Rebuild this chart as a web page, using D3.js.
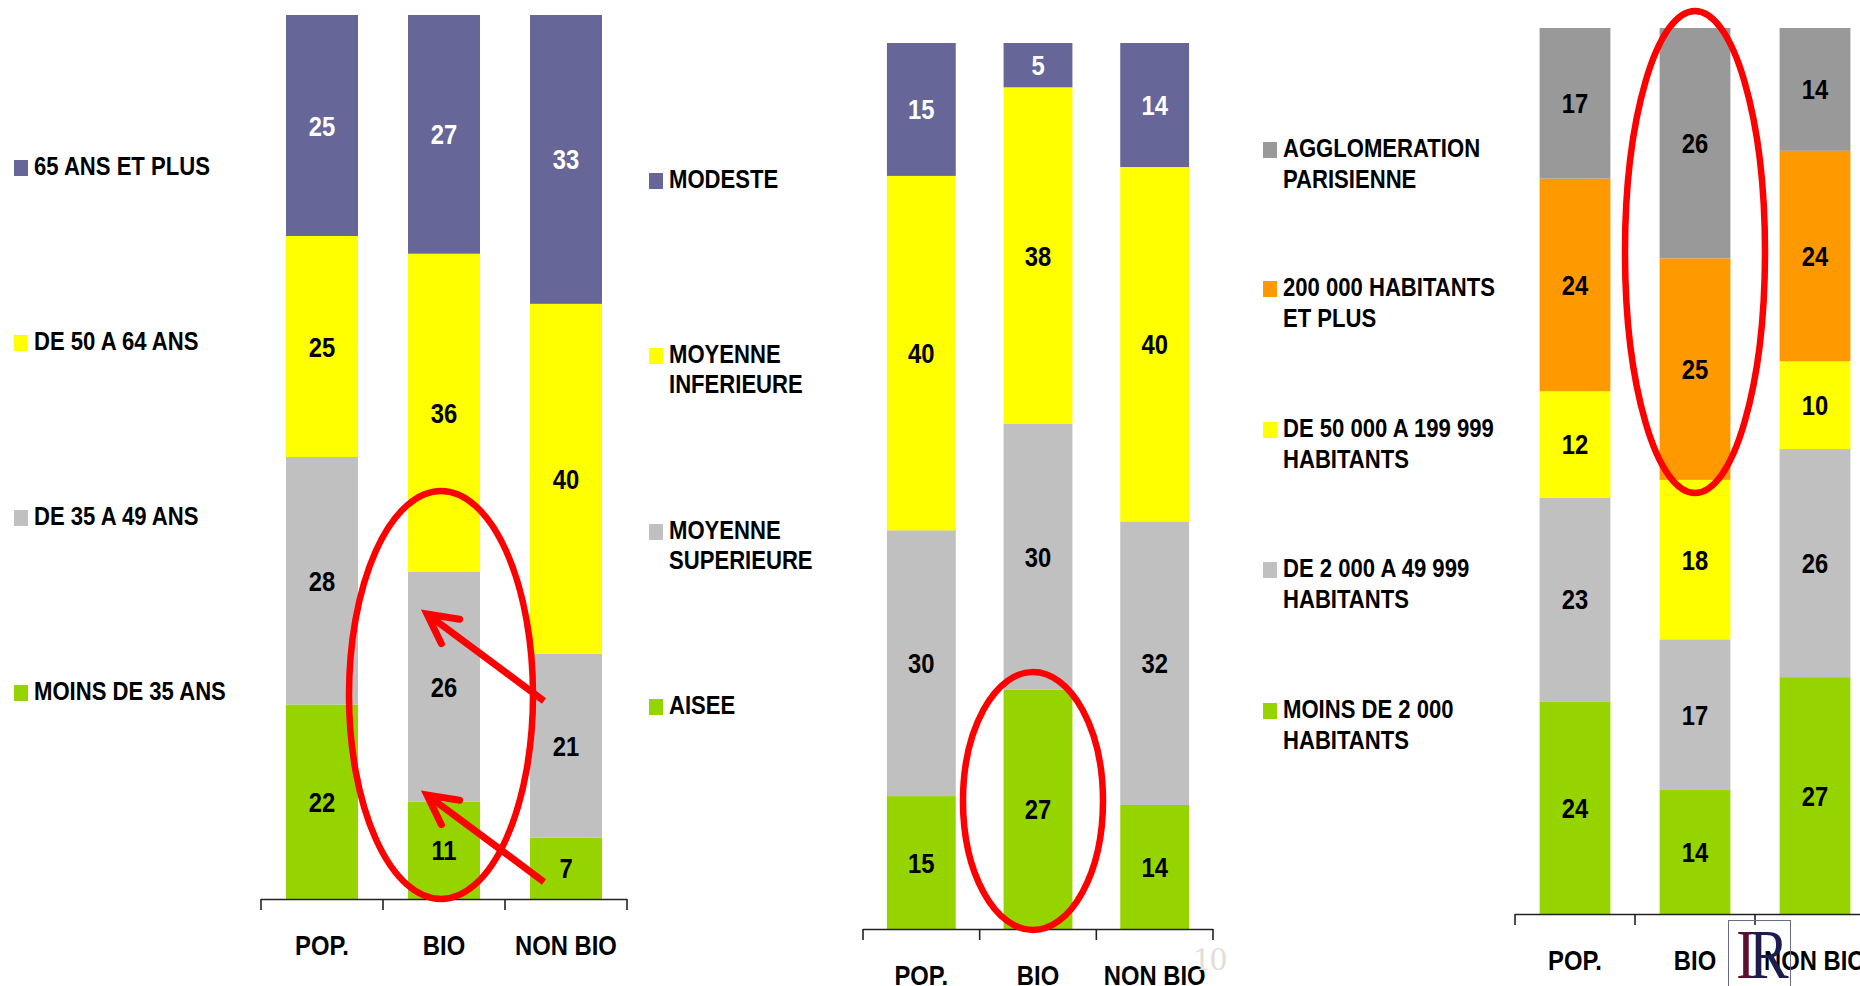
<!DOCTYPE html>
<html>
<head>
<meta charset="utf-8">
<script src="https://cdn.jsdelivr.net/npm/d3@7"></script>
<style>
  body { margin: 0; background: #fff; }
  svg { display: block; }
  text { font-family: "Liberation Sans", Arial, sans-serif; font-weight: bold; }
</style>
</head>
<body>
<div id="chart"></div>
<script>
// Categories shared by the three panels
const categories = ["POP.", "BIO", "NON BIO"];

// Panel 1 : age
const ageSeries = [["65 ANS ET PLUS"], ["DE 50 A 64 ANS"], ["DE 35 A 49 ANS"], ["MOINS DE 35 ANS"]];
const age65Plus = [25, 27, 33];
const age50to64 = [25, 36, 40];
const age35to49 = [28, 26, 21];
const ageUnder35 = [22, 11, 7];

// Panel 2 : income
const incomeSeries = [["MODESTE"], ["MOYENNE", "INFERIEURE"], ["MOYENNE", "SUPERIEURE"], ["AISEE"]];
const modeste = [15, 5, 14];
const moyenneInf = [40, 38, 40];
const moyenneSup = [30, 30, 32];
const aisee = [15, 27, 14];

// Panel 3 : town size
const townSeries = [["AGGLOMERATION", "PARISIENNE"], ["200 000 HABITANTS", "ET PLUS"],
  ["DE 50 000 A 199 999", "HABITANTS"], ["DE 2 000 A 49 999", "HABITANTS"], ["MOINS DE 2 000", "HABITANTS"]];
const paris = [17, 26, 14];
const over200k = [24, 25, 24];
const from50k = [12, 18, 10];
const from2k = [23, 17, 26];
const under2k = [24, 14, 27];

// Colours
const purple = "#666699", yellow = "#ffff00", lightGrey = "#c0c0c0", green = "#96d400";
const darkGrey = "#999999", orange = "#ff9900";
const ageColors = [purple, yellow, lightGrey, green];
const incomeColors = [purple, yellow, lightGrey, green];
const townColors = [darkGrey, orange, yellow, lightGrey, green];

const width = 1860, height = 986;
const squeeze = 0.85; // the original text is horizontally condensed

const panels = [
  { series: ageSeries, colors: ageColors, values: [age65Plus, age50to64, age35to49, ageUnder35],
    axis: [261, 627], top: 15, base: 899, legendX: 14, legendY: [175, 350, 525, 700], lineGap: 30 },
  { series: incomeSeries, colors: incomeColors, values: [modeste, moyenneInf, moyenneSup, aisee],
    axis: [863, 1213], top: 43, base: 929, legendX: 649, legendY: [188, 363, 539, 714], lineGap: 30 },
  { series: townSeries, colors: townColors, values: [paris, over200k, from50k, from2k, under2k],
    axis: [1515, 1875], top: 28, base: 914, legendX: 1263, legendY: [157, 296, 437, 577, 718], lineGap: 31 }
];

let svg = d3.select("#chart")
  .append("svg")
  .attr("width", width)
  .attr("height", height);

function squeezed(x, y) {
  return "translate(" + x + "," + y + ") scale(" + squeeze + ",1)";
}

let scales = [];

panels.forEach(p => {
  let x = d3.scaleBand()
    .domain(categories)
    .range(p.axis)
    .paddingInner(0.41)
    .paddingOuter(0.205);
  let y = d3.scaleLinear()
    .domain([0, 1])
    .range([p.base, p.top]);
  scales.push({ x: x, y: y });

  let rows = categories.map((c, i) => {
    let r = { cat: c };
    p.series.forEach((s, k) => r[k] = p.values[k][i]);
    return r;
  });
  // stack bottom-up, last series at the bottom; normalised to 100%
  let keys = d3.range(p.series.length).reverse();
  let stacked = d3.stack().keys(keys).offset(d3.stackOffsetExpand)(rows);

  let g = svg.append("g");
  let layers = g.selectAll("g.layer")
    .data(stacked)
    .enter()
    .append("g")
    .attr("class", "layer");

  layers.selectAll("rect")
    .data(layer => layer.map(d => ({ d: d, key: layer.key })))
    .enter()
    .append("rect")
    .attr("x", o => x(o.d.data.cat))
    .attr("y", o => y(o.d[1]))
    .attr("width", x.bandwidth())
    .attr("height", o => y(o.d[0]) - y(o.d[1]))
    .attr("fill", o => p.colors[o.key]);

  layers.selectAll("text")
    .data(layer => layer.map(d => ({ d: d, key: layer.key })))
    .enter()
    .append("text")
    .attr("transform", o => squeezed(x(o.d.data.cat) + x.bandwidth() / 2,
      (y(o.d[0]) + y(o.d[1])) / 2 + 10))
    .attr("text-anchor", "middle")
    .style("font-size", "28px")
    .attr("fill", o => p.colors[o.key] === purple ? "#ffffff" : "#000000")
    .text(o => o.d.data[o.key]);

  // Axis: baseline with ticks on the band boundaries
  let step = x.step();
  g.append("line")
    .attr("x1", p.axis[0]).attr("x2", p.axis[1])
    .attr("y1", p.base + 0.5).attr("y2", p.base + 0.5)
    .attr("stroke", "#222").attr("stroke-width", 1.6);
  g.selectAll("line.tick")
    .data(d3.range(categories.length + 1))
    .enter()
    .append("line")
    .attr("class", "tick")
    .attr("x1", i => p.axis[0] + i * step).attr("x2", i => p.axis[0] + i * step)
    .attr("y1", p.base).attr("y2", p.base + 11)
    .attr("stroke", "#222").attr("stroke-width", 1.6);

  g.selectAll("text.cat")
    .data(categories)
    .enter()
    .append("text")
    .attr("class", "cat")
    .attr("transform", c => squeezed(x(c) + x.bandwidth() / 2, p.base + 56))
    .attr("text-anchor", "middle")
    .style("font-size", "28px")
    .attr("fill", "#000")
    .text(c => c);

  // Legend
  let leg = g.selectAll("g.legend")
    .data(p.series)
    .enter()
    .append("g")
    .attr("class", "legend");
  leg.append("rect")
    .attr("x", p.legendX)
    .attr("y", (s, k) => p.legendY[k] - 15)
    .attr("width", 14)
    .attr("height", 16)
    .attr("fill", (s, k) => p.colors[k]);
  leg.append("text")
    .attr("transform", (s, k) => squeezed(p.legendX + 20, p.legendY[k]))
    .style("font-size", "26px")
    .attr("fill", "#000")
    .selectAll("tspan")
    .data(s => s)
    .enter()
    .append("tspan")
    .attr("x", 0)
    .attr("y", (line, j) => j * p.lineGap)
    .text(line => line);
});

// Red annotations
let red = "#ff0000";
let ann = svg.append("g").attr("fill", "none").attr("stroke", red).attr("stroke-width", 6.5);

let bioCenter = i => scales[i].x("BIO") + scales[i].x.bandwidth() / 2;
ann.append("ellipse")
  .attr("cx", bioCenter(0) - 3).attr("cy", panels[0].base - 204)
  .attr("rx", 92).attr("ry", 204);
ann.append("ellipse")
  .attr("cx", bioCenter(1) - 5).attr("cy", panels[1].base - 128)
  .attr("rx", 70).attr("ry", 129);
ann.append("ellipse")
  .attr("cx", bioCenter(2)).attr("cy", panels[2].top - 17 + 241)
  .attr("rx", 70).attr("ry", 241);

function arrow(x1, y1, x2, y2) {
  let a = Math.atan2(y1 - y2, x1 - x2);
  let len = 33, spread = 0.48;
  let p1 = [x2 + len * Math.cos(a - spread), y2 + len * Math.sin(a - spread)];
  let p2 = [x2 + len * Math.cos(a + spread), y2 + len * Math.sin(a + spread)];
  ann.append("line")
    .attr("x1", x1).attr("y1", y1).attr("x2", x2).attr("y2", y2)
    .attr("stroke-width", 7);
  ann.append("path")
    .attr("d", "M" + p1 + "L" + x2 + "," + y2 + "L" + p2)
    .attr("stroke-width", 7)
    .attr("stroke-linejoin", "miter")
    .attr("stroke-linecap", "round");
}
arrow(544, 701, 427, 614);
arrow(544, 882, 427, 795);

// Faint page number
svg.append("text")
  .attr("x", 1210).attr("y", 970)
  .attr("text-anchor", "middle")
  .style("font-family", "'Liberation Serif', serif")
  .style("font-weight", "normal")
  .style("font-size", "34px")
  .attr("fill", "#e2ddd5")
  .text("10");

// Logo box (transparent, drawn over the last category label)
let logo = svg.append("g");
logo.append("rect")
  .attr("x", 1728.5).attr("y", 920.5)
  .attr("width", 62).attr("height", 80)
  .attr("fill", "none")
  .attr("stroke", "#6a6a88").attr("stroke-width", 1);
logo.append("text")
  .attr("transform", squeezed(1736, 978))
  .style("font-family", "'Liberation Serif', serif")
  .style("font-weight", "normal")
  .style("font-size", "70px")
  .attr("fill", "#5c0f2e")
  .text("I");
logo.append("text")
  .attr("transform", squeezed(1749, 978))
  .style("font-family", "'Liberation Serif', serif")
  .style("font-weight", "normal")
  .style("font-size", "70px")
  .attr("fill", "#1c1c4e")
  .text("R");
</script>
</body>
</html>
